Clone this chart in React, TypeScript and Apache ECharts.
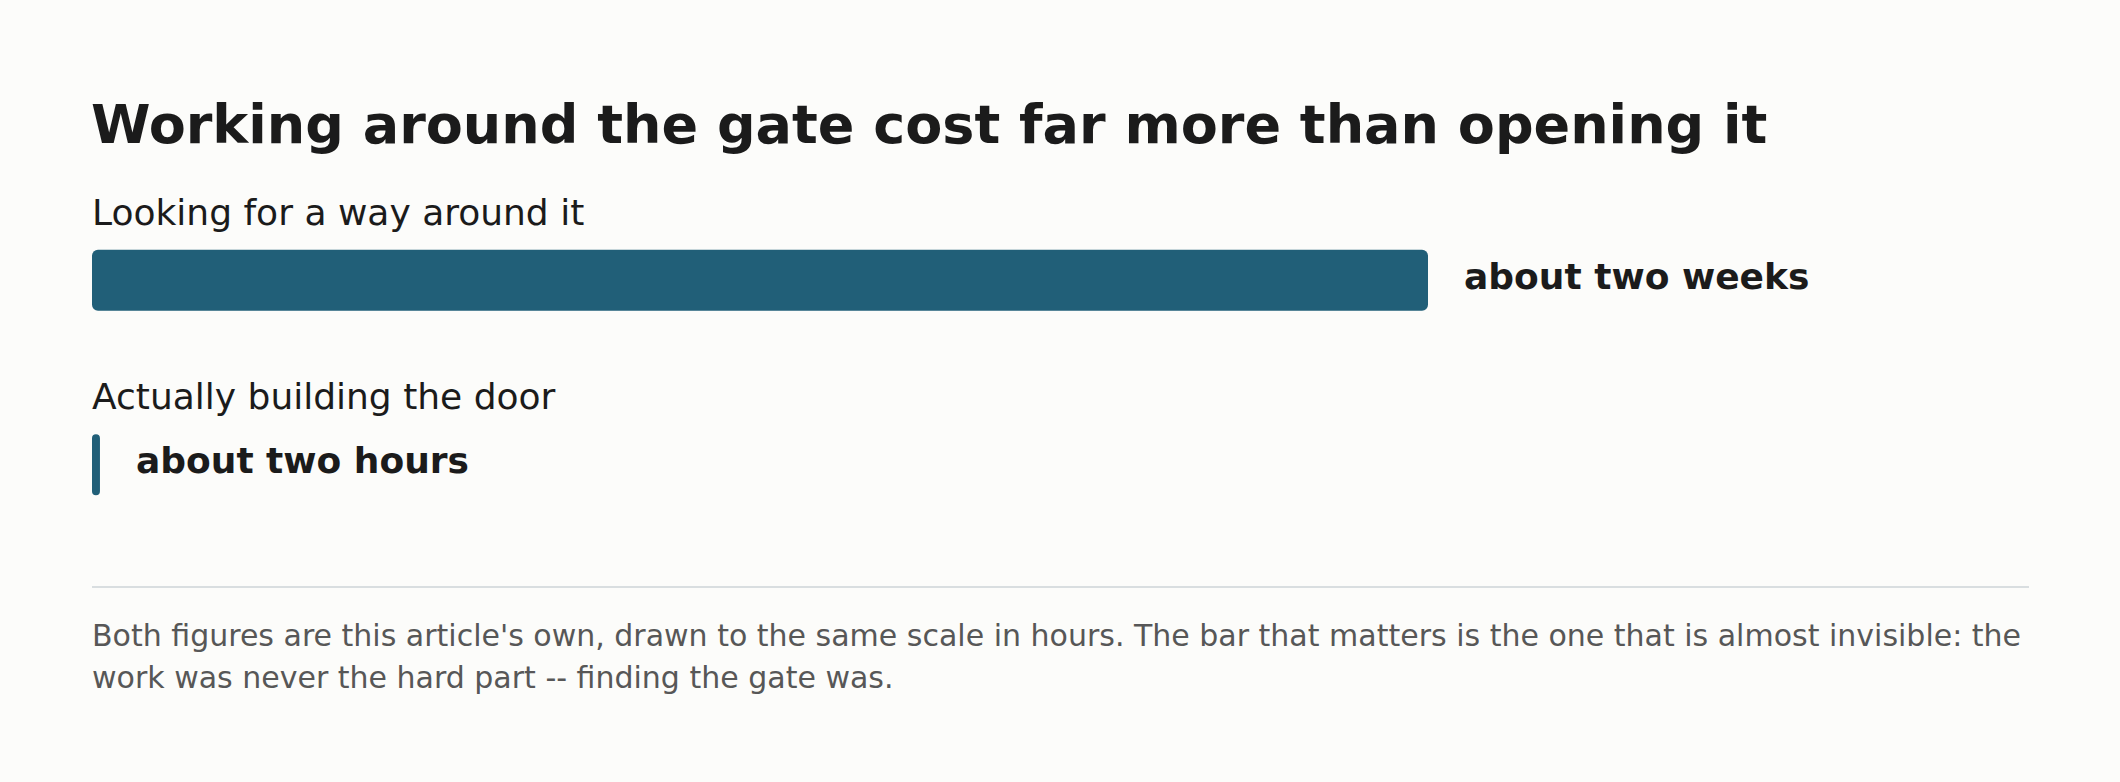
import React, { useEffect, useRef } from "react";
import * as echarts from "echarts";

// datos del gráfico (horas)
const categories = ["Looking for a way around it", "Actually building the door"];
const hours = [336, 2];
const valueLabels = ["about two weeks", "about two hours"];
const titleText = "Working around the gate cost far more than opening it";
const noteLines = [
  "Both figures are this article's own, drawn to the same scale in hours. The bar that matters is the one that is almost invisible: the",
  "work was never the hard part -- finding the gate was.",
];

const FONT = "'DejaVu Sans', sans-serif";
const INK = "#1b1b1b";
const BAR = "#215f78";

export default function App() {
  const chartRef = useRef<HTMLDivElement>(null);

  useEffect(() => {
    if (!chartRef.current) return;
    const chart = echarts.init(chartRef.current, undefined, { renderer: "svg" });

    const option: echarts.EChartsOption = {
      animation: false,
      backgroundColor: "#fcfcfa",
      textStyle: { fontFamily: FONT },
      title: {
        text: titleText,
        left: 86,
        top: 92,
        textStyle: { fontFamily: FONT, fontSize: 54, fontWeight: "bold", color: INK },
      },
      grid: { left: 92, top: 188, width: 1336, height: 369 },
      xAxis: {
        type: "value",
        min: 0,
        max: 336,
        show: false,
      },
      yAxis: {
        type: "category",
        inverse: true,
        data: categories,
        axisLine: { show: false },
        axisTick: { show: false },
        axisLabel: {
          inside: true,
          margin: 0,
          align: "left",
          verticalAlign: "bottom",
          padding: [0, 0, 50, 0],
          fontFamily: FONT,
          fontSize: 36,
          color: INK,
        },
      },
      series: [
        {
          type: "bar",
          data: hours,
          barWidth: 61,
          itemStyle: { color: BAR, borderRadius: 6 },
          label: {
            show: true,
            position: "right",
            distance: 36,
            offset: [0, -4],
            fontFamily: FONT,
            fontSize: 36,
            fontWeight: "bold",
            color: INK,
            formatter: (p: any) => valueLabels[p.dataIndex],
          },
        },
      ],
      graphic: [
        {
          type: "line",
          shape: { x1: 92, y1: 587, x2: 2029, y2: 587 },
          style: { stroke: "#d9dee0", lineWidth: 2 },
        },
        {
          type: "text",
          left: 92,
          top: 614,
          style: {
            text: noteLines.join("\n"),
            fontFamily: FONT,
            fontSize: 30,
            lineHeight: 42,
            fill: "#575757",
          },
        },
      ],
    };

    chart.setOption(option);
    return () => chart.dispose();
  }, []);

  return (
    <div
      ref={chartRef}
      style={{ position: "absolute", left: 0, top: 0, width: 2120, height: 782 }}
    />
  );
}
